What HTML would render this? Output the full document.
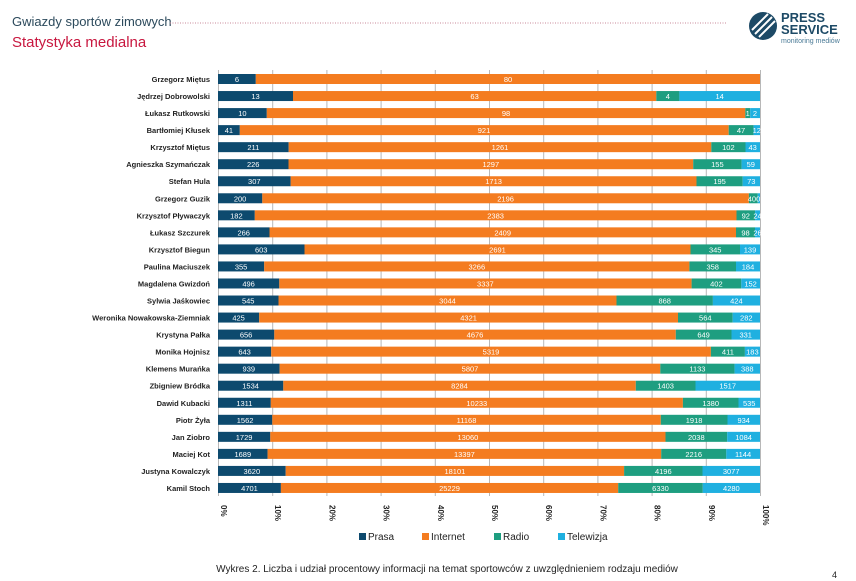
<!DOCTYPE html>
<html><head><meta charset="utf-8"><style>
body{margin:0;background:#fff;width:856px;height:581px;overflow:hidden}
svg{display:block;font-family:"Liberation Sans",sans-serif}
.n{font-size:7.5px;fill:#222;text-anchor:end;font-weight:bold}
.v{font-size:7.5px;fill:#fff;text-anchor:middle}
</style></head><body>
<svg width="856" height="581" viewBox="0 0 856 581">
<text x="12" y="26" font-size="13" fill="#2c4a5c">Gwiazdy sportów zimowych</text>
<line x1="170" y1="23" x2="726" y2="23" stroke="#c98a9a" stroke-width="1" stroke-dasharray="1,1.5"/>
<text x="12" y="47" font-size="15" fill="#c8173f">Statystyka medialna</text>
<g>
<circle cx="763" cy="26" r="14" fill="#1d4a66"/>
<path d="M752 30 L768 14 M755 34 L772 17 M759 37 L775 21" stroke="#fff" stroke-width="2"/>
<text x="781" y="22" font-size="13" font-weight="bold" fill="#1d4a66">PRESS</text>
<text x="781" y="34" font-size="13" font-weight="bold" fill="#1d4a66">SERVICE</text>
<text x="781" y="43" font-size="7" fill="#4a7a96">monitoring mediów</text>
</g>
<g stroke="#b8b8b8" stroke-width="1">
<line x1="218.5" y1="70" x2="218.5" y2="496"/><line x1="272.7" y1="70" x2="272.7" y2="496"/><line x1="326.9" y1="70" x2="326.9" y2="496"/><line x1="381.1" y1="70" x2="381.1" y2="496"/><line x1="435.3" y1="70" x2="435.3" y2="496"/><line x1="489.5" y1="70" x2="489.5" y2="496"/><line x1="543.7" y1="70" x2="543.7" y2="496"/><line x1="597.9" y1="70" x2="597.9" y2="496"/><line x1="652.1" y1="70" x2="652.1" y2="496"/><line x1="706.3" y1="70" x2="706.3" y2="496"/><line x1="760.5" y1="70" x2="760.5" y2="496"/>
</g>
<g id="bars"></g>
<g font-size="7.5">
<!-- row template via groups -->
<g transform="translate(0,79)"><text class="n" x="210" y="3">Grzegorz Miętus</text><rect x="218" y="-5" width="37.8" height="10" fill="#0d4a6e"/><rect x="255.8" y="-5" width="504.2" height="10" fill="#f47c20"/><text class="v" x="237" y="3">6</text><text class="v" x="508" y="3">80</text></g>
<g transform="translate(0,96.04)"><text class="n" x="210" y="3">Jędrzej Dobrowolski</text><rect x="218" y="-5" width="75" height="10" fill="#0d4a6e"/><rect x="293" y="-5" width="363.3" height="10" fill="#f47c20"/><rect x="656.3" y="-5" width="23.1" height="10" fill="#1e9e80"/><rect x="679.4" y="-5" width="80.6" height="10" fill="#1fb0e0"/><text class="v" x="255.5" y="3">13</text><text class="v" x="474.6" y="3">63</text><text class="v" x="667.8" y="3">4</text><text class="v" x="719.7" y="3">14</text></g>
<g transform="translate(0,113.08)"><text class="n" x="210" y="3">Łukasz Rutkowski</text><rect x="218" y="-5" width="48.8" height="10" fill="#0d4a6e"/><rect x="266.8" y="-5" width="478.5" height="10" fill="#f47c20"/><rect x="745.3" y="-5" width="4.9" height="10" fill="#1e9e80"/><rect x="750.2" y="-5" width="9.8" height="10" fill="#1fb0e0"/><text class="v" x="242.4" y="3">10</text><text class="v" x="506" y="3">98</text><text class="v" x="747.7" y="3">1</text><text class="v" x="755" y="3">2</text></g>
<g transform="translate(0,130.12)"><text class="n" x="210" y="3">Bartłomiej Kłusek</text><rect x="218" y="-5" width="21.8" height="10" fill="#0d4a6e"/><rect x="239.8" y="-5" width="488.9" height="10" fill="#f47c20"/><rect x="728.7" y="-5" width="24.9" height="10" fill="#1e9e80"/><rect x="753.6" y="-5" width="6.4" height="10" fill="#1fb0e0"/><text class="v" x="228.9" y="3">41</text><text class="v" x="484" y="3">921</text><text class="v" x="741" y="3">47</text><text class="v" x="756.8" y="3">12</text></g>
<g transform="translate(0,147.16)"><text class="n" x="210" y="3">Krzysztof Miętus</text><rect x="218" y="-5" width="70.7" height="10" fill="#0d4a6e"/><rect x="288.7" y="-5" width="422.6" height="10" fill="#f47c20"/><rect x="711.3" y="-5" width="34.2" height="10" fill="#1e9e80"/><rect x="745.5" y="-5" width="14.5" height="10" fill="#1fb0e0"/><text class="v" x="253.3" y="3">211</text><text class="v" x="500" y="3">1261</text><text class="v" x="728.4" y="3">102</text><text class="v" x="752.7" y="3">43</text></g>
<g transform="translate(0,164.2)"><text class="n" x="210" y="3">Agnieszka Szymańczak</text><rect x="218" y="-5" width="70.5" height="10" fill="#0d4a6e"/><rect x="288.5" y="-5" width="404.7" height="10" fill="#f47c20"/><rect x="693.2" y="-5" width="48.4" height="10" fill="#1e9e80"/><rect x="741.6" y="-5" width="18.4" height="10" fill="#1fb0e0"/><text class="v" x="253.2" y="3">226</text><text class="v" x="490.8" y="3">1297</text><text class="v" x="717.4" y="3">155</text><text class="v" x="750.8" y="3">59</text></g>
<g transform="translate(0,181.24)"><text class="n" x="210" y="3">Stefan Hula</text><rect x="218" y="-5" width="72.7" height="10" fill="#0d4a6e"/><rect x="290.7" y="-5" width="405.8" height="10" fill="#f47c20"/><rect x="696.5" y="-5" width="46.2" height="10" fill="#1e9e80"/><rect x="742.7" y="-5" width="17.3" height="10" fill="#1fb0e0"/><text class="v" x="254.3" y="3">307</text><text class="v" x="493.6" y="3">1713</text><text class="v" x="719.6" y="3">195</text><text class="v" x="751.3" y="3">73</text></g>
<g transform="translate(0,198.28)"><text class="n" x="210" y="3">Grzegorz Guzik</text><rect x="218" y="-5" width="44.3" height="10" fill="#0d4a6e"/><rect x="262.3" y="-5" width="486.6" height="10" fill="#f47c20"/><rect x="748.9" y="-5" width="8.9" height="10" fill="#1e9e80"/><rect x="757.8" y="-5" width="2.2" height="10" fill="#1fb0e0"/><text class="v" x="240.1" y="3">200</text><text class="v" x="505.6" y="3">2196</text><text class="v" x="754" y="3">400</text></g>
<g transform="translate(0,215.32)"><text class="n" x="210" y="3">Krzysztof Pływaczyk</text><rect x="218" y="-5" width="36.8" height="10" fill="#0d4a6e"/><rect x="254.8" y="-5" width="481.7" height="10" fill="#f47c20"/><rect x="736.5" y="-5" width="18.6" height="10" fill="#1e9e80"/><rect x="755.1" y="-5" width="4.9" height="10" fill="#1fb0e0"/><text class="v" x="236.4" y="3">182</text><text class="v" x="495.6" y="3">2383</text><text class="v" x="745.8" y="3">92</text><text class="v" x="757.5" y="3">24</text></g>
<g transform="translate(0,232.36)"><text class="n" x="210" y="3">Łukasz Szczurek</text><rect x="218" y="-5" width="51.5" height="10" fill="#0d4a6e"/><rect x="269.5" y="-5" width="466.5" height="10" fill="#f47c20"/><rect x="736" y="-5" width="19" height="10" fill="#1e9e80"/><rect x="755" y="-5" width="5" height="10" fill="#1fb0e0"/><text class="v" x="243.7" y="3">266</text><text class="v" x="502.7" y="3">2409</text><text class="v" x="745.5" y="3">98</text><text class="v" x="757.5" y="3">26</text></g>
<g transform="translate(0,249.4)"><text class="n" x="210" y="3">Krzysztof Biegun</text><rect x="218" y="-5" width="86.5" height="10" fill="#0d4a6e"/><rect x="304.5" y="-5" width="386" height="10" fill="#f47c20"/><rect x="690.5" y="-5" width="49.5" height="10" fill="#1e9e80"/><rect x="740" y="-5" width="20" height="10" fill="#1fb0e0"/><text class="v" x="261.2" y="3">603</text><text class="v" x="497.5" y="3">2691</text><text class="v" x="715.2" y="3">345</text><text class="v" x="750" y="3">139</text></g>
<g transform="translate(0,266.44)"><text class="n" x="210" y="3">Paulina Maciuszek</text><rect x="218" y="-5" width="46.2" height="10" fill="#0d4a6e"/><rect x="264.2" y="-5" width="425.2" height="10" fill="#f47c20"/><rect x="689.4" y="-5" width="46.6" height="10" fill="#1e9e80"/><rect x="736" y="-5" width="24" height="10" fill="#1fb0e0"/><text class="v" x="241.1" y="3">355</text><text class="v" x="476.8" y="3">3266</text><text class="v" x="712.7" y="3">358</text><text class="v" x="748" y="3">184</text></g>
<g transform="translate(0,283.48)"><text class="n" x="210" y="3">Magdalena Gwizdoń</text><rect x="218" y="-5" width="61.3" height="10" fill="#0d4a6e"/><rect x="279.3" y="-5" width="412.3" height="10" fill="#f47c20"/><rect x="691.6" y="-5" width="49.7" height="10" fill="#1e9e80"/><rect x="741.3" y="-5" width="18.7" height="10" fill="#1fb0e0"/><text class="v" x="248.6" y="3">496</text><text class="v" x="485.4" y="3">3337</text><text class="v" x="716.4" y="3">402</text><text class="v" x="750.6" y="3">152</text></g>
<g transform="translate(0,300.52)"><text class="n" x="210" y="3">Sylwia Jaśkowiec</text><rect x="218" y="-5" width="60.5" height="10" fill="#0d4a6e"/><rect x="278.5" y="-5" width="338" height="10" fill="#f47c20"/><rect x="616.5" y="-5" width="96.4" height="10" fill="#1e9e80"/><rect x="712.9" y="-5" width="47.1" height="10" fill="#1fb0e0"/><text class="v" x="248.2" y="3">545</text><text class="v" x="447.5" y="3">3044</text><text class="v" x="664.7" y="3">868</text><text class="v" x="736.4" y="3">424</text></g>
<g transform="translate(0,317.56)"><text class="n" x="210" y="3">Weronika Nowakowska-Ziemniak</text><rect x="218" y="-5" width="41.2" height="10" fill="#0d4a6e"/><rect x="259.2" y="-5" width="418.8" height="10" fill="#f47c20"/><rect x="678" y="-5" width="54.7" height="10" fill="#1e9e80"/><rect x="732.7" y="-5" width="27.3" height="10" fill="#1fb0e0"/><text class="v" x="238.6" y="3">425</text><text class="v" x="468.6" y="3">4321</text><text class="v" x="705.3" y="3">564</text><text class="v" x="746.3" y="3">282</text></g>
<g transform="translate(0,334.6)"><text class="n" x="210" y="3">Krystyna Pałka</text><rect x="218" y="-5" width="56.3" height="10" fill="#0d4a6e"/><rect x="274.3" y="-5" width="401.5" height="10" fill="#f47c20"/><rect x="675.8" y="-5" width="55.7" height="10" fill="#1e9e80"/><rect x="731.5" y="-5" width="28.5" height="10" fill="#1fb0e0"/><text class="v" x="246.1" y="3">656</text><text class="v" x="475" y="3">4676</text><text class="v" x="703.6" y="3">649</text><text class="v" x="745.7" y="3">331</text></g>
<g transform="translate(0,351.64)"><text class="n" x="210" y="3">Monika Hojnisz</text><rect x="218" y="-5" width="53.2" height="10" fill="#0d4a6e"/><rect x="271.2" y="-5" width="439.7" height="10" fill="#f47c20"/><rect x="710.9" y="-5" width="34" height="10" fill="#1e9e80"/><rect x="744.9" y="-5" width="15.1" height="10" fill="#1fb0e0"/><text class="v" x="244.6" y="3">643</text><text class="v" x="491" y="3">5319</text><text class="v" x="727.9" y="3">411</text><text class="v" x="752.4" y="3">183</text></g>
<g transform="translate(0,368.68)"><text class="n" x="210" y="3">Klemens Murańka</text><rect x="218" y="-5" width="61.6" height="10" fill="#0d4a6e"/><rect x="279.6" y="-5" width="380.7" height="10" fill="#f47c20"/><rect x="660.3" y="-5" width="74.3" height="10" fill="#1e9e80"/><rect x="734.6" y="-5" width="25.4" height="10" fill="#1fb0e0"/><text class="v" x="248.8" y="3">939</text><text class="v" x="470" y="3">5807</text><text class="v" x="697.4" y="3">1133</text><text class="v" x="747.3" y="3">388</text></g>
<g transform="translate(0,385.72)"><text class="n" x="210" y="3">Zbigniew Bródka</text><rect x="218" y="-5" width="65.3" height="10" fill="#0d4a6e"/><rect x="283.3" y="-5" width="352.5" height="10" fill="#f47c20"/><rect x="635.8" y="-5" width="59.7" height="10" fill="#1e9e80"/><rect x="695.5" y="-5" width="64.5" height="10" fill="#1fb0e0"/><text class="v" x="250.6" y="3">1534</text><text class="v" x="459.5" y="3">8284</text><text class="v" x="665.6" y="3">1403</text><text class="v" x="727.7" y="3">1517</text></g>
<g transform="translate(0,402.76)"><text class="n" x="210" y="3">Dawid Kubacki</text><rect x="218" y="-5" width="52.8" height="10" fill="#0d4a6e"/><rect x="270.8" y="-5" width="412.1" height="10" fill="#f47c20"/><rect x="682.9" y="-5" width="55.6" height="10" fill="#1e9e80"/><rect x="738.5" y="-5" width="21.5" height="10" fill="#1fb0e0"/><text class="v" x="244.4" y="3">1311</text><text class="v" x="476.8" y="3">10233</text><text class="v" x="710.7" y="3">1380</text><text class="v" x="749.2" y="3">535</text></g>
<g transform="translate(0,419.8)"><text class="n" x="210" y="3">Piotr Żyła</text><rect x="218" y="-5" width="54.3" height="10" fill="#0d4a6e"/><rect x="272.3" y="-5" width="388.5" height="10" fill="#f47c20"/><rect x="660.8" y="-5" width="66.7" height="10" fill="#1e9e80"/><rect x="727.5" y="-5" width="32.5" height="10" fill="#1fb0e0"/><text class="v" x="245.1" y="3">1562</text><text class="v" x="466.5" y="3">11168</text><text class="v" x="694.1" y="3">1918</text><text class="v" x="743.7" y="3">934</text></g>
<g transform="translate(0,436.84)"><text class="n" x="210" y="3">Jan Ziobro</text><rect x="218" y="-5" width="52.3" height="10" fill="#0d4a6e"/><rect x="270.3" y="-5" width="395.2" height="10" fill="#f47c20"/><rect x="665.5" y="-5" width="61.7" height="10" fill="#1e9e80"/><rect x="727.2" y="-5" width="32.8" height="10" fill="#1fb0e0"/><text class="v" x="244.1" y="3">1729</text><text class="v" x="467.9" y="3">13060</text><text class="v" x="696.3" y="3">2038</text><text class="v" x="743.6" y="3">1084</text></g>
<g transform="translate(0,453.88)"><text class="n" x="210" y="3">Maciej Kot</text><rect x="218" y="-5" width="49.6" height="10" fill="#0d4a6e"/><rect x="267.6" y="-5" width="393.6" height="10" fill="#f47c20"/><rect x="661.2" y="-5" width="65.1" height="10" fill="#1e9e80"/><rect x="726.3" y="-5" width="33.7" height="10" fill="#1fb0e0"/><text class="v" x="242.8" y="3">1689</text><text class="v" x="464.4" y="3">13397</text><text class="v" x="693.7" y="3">2216</text><text class="v" x="743.1" y="3">1144</text></g>
<g transform="translate(0,470.92)"><text class="n" x="210" y="3">Justyna Kowalczyk</text><rect x="218" y="-5" width="67.7" height="10" fill="#0d4a6e"/><rect x="285.7" y="-5" width="338.4" height="10" fill="#f47c20"/><rect x="624.1" y="-5" width="78.4" height="10" fill="#1e9e80"/><rect x="702.5" y="-5" width="57.5" height="10" fill="#1fb0e0"/><text class="v" x="251.8" y="3">3620</text><text class="v" x="454.9" y="3">18101</text><text class="v" x="663.3" y="3">4196</text><text class="v" x="731.2" y="3">3077</text></g>
<g transform="translate(0,487.96)"><text class="n" x="210" y="3">Kamil Stoch</text><rect x="218" y="-5" width="62.9" height="10" fill="#0d4a6e"/><rect x="280.9" y="-5" width="337.3" height="10" fill="#f47c20"/><rect x="618.2" y="-5" width="84.6" height="10" fill="#1e9e80"/><rect x="702.8" y="-5" width="57.2" height="10" fill="#1fb0e0"/><text class="v" x="249.5" y="3">4701</text><text class="v" x="449.5" y="3">25229</text><text class="v" x="660.5" y="3">6330</text><text class="v" x="731.4" y="3">4280</text></g>
</g>
<g font-size="8" fill="#222" font-weight="bold">
<text transform="translate(221,505) rotate(90)">0%</text>
<text transform="translate(275.2,505) rotate(90)">10%</text>
<text transform="translate(329.4,505) rotate(90)">20%</text>
<text transform="translate(383.6,505) rotate(90)">30%</text>
<text transform="translate(437.8,505) rotate(90)">40%</text>
<text transform="translate(492,505) rotate(90)">50%</text>
<text transform="translate(546.2,505) rotate(90)">60%</text>
<text transform="translate(600.4,505) rotate(90)">70%</text>
<text transform="translate(654.6,505) rotate(90)">80%</text>
<text transform="translate(708.8,505) rotate(90)">90%</text>
<text transform="translate(763,505) rotate(90)">100%</text>
</g>
<g font-size="10" fill="#222">
<rect x="359" y="533" width="7" height="7" fill="#0d4a6e"/><text x="368" y="540">Prasa</text>
<rect x="422" y="533" width="7" height="7" fill="#f47c20"/><text x="431" y="540">Internet</text>
<rect x="494" y="533" width="7" height="7" fill="#1e9e80"/><text x="503" y="540">Radio</text>
<rect x="558" y="533" width="7" height="7" fill="#1fb0e0"/><text x="567" y="540">Telewizja</text>
</g>
<text x="447" y="572" font-size="10" fill="#222" text-anchor="middle">Wykres 2. Liczba i udział procentowy informacji na temat sportowców z uwzględnieniem rodzaju mediów</text>
<text x="832" y="578" font-size="9" fill="#222">4</text>
</svg>
</body></html>
